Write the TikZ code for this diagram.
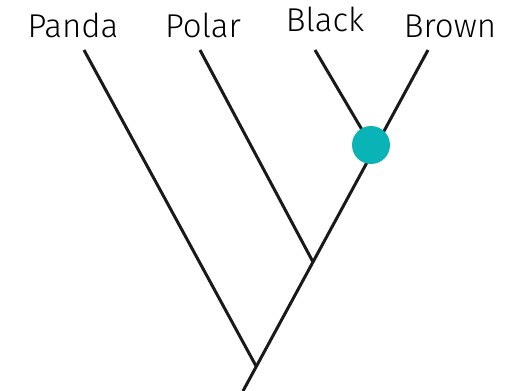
\documentclass[tikz,border=0pt]{standalone}
\usepackage{fontspec}
\setmainfont{Fira Sans Light}
\begin{document}
\begin{tikzpicture}[x=1pt,y=-1pt,
  lbl/.style={anchor=base,inner sep=0pt,font=\fontsize{33}{33}\selectfont},
  branch/.style={line width=3pt,black!90},
  dot/.style={circle,inner sep=0pt,minimum size=38pt}]
\useasboundingbox (0,0) rectangle (515,391);
\definecolor{dotc}{HTML}{0AB3B5}
\node[lbl] (tPanda) at (73,37) {Panda};
\node[lbl] (tPolar) at (203,37) {Polar};
\node[lbl] (tBlack) at (325,31) {Black};
\node[lbl] (tBrown) at (450,37) {Brown};
\coordinate (panda) at (84,50);
\coordinate (polar) at (200,50);
\coordinate (black) at (315,50);
\coordinate (brown) at (428,50);
\coordinate (j1) at (256,366);
\coordinate (j2) at (313,262);
\coordinate (j3) at (371,145);
\coordinate (root) at (243,391);
\draw[branch] (panda) -- (j1);
\draw[branch] (polar) -- (j2);
\draw[branch] (black) -- (j3);
\draw[branch] (brown) -- (root);
\node[dot,fill=dotc] (d) at (j3) {};
\end{tikzpicture}
\end{document}
